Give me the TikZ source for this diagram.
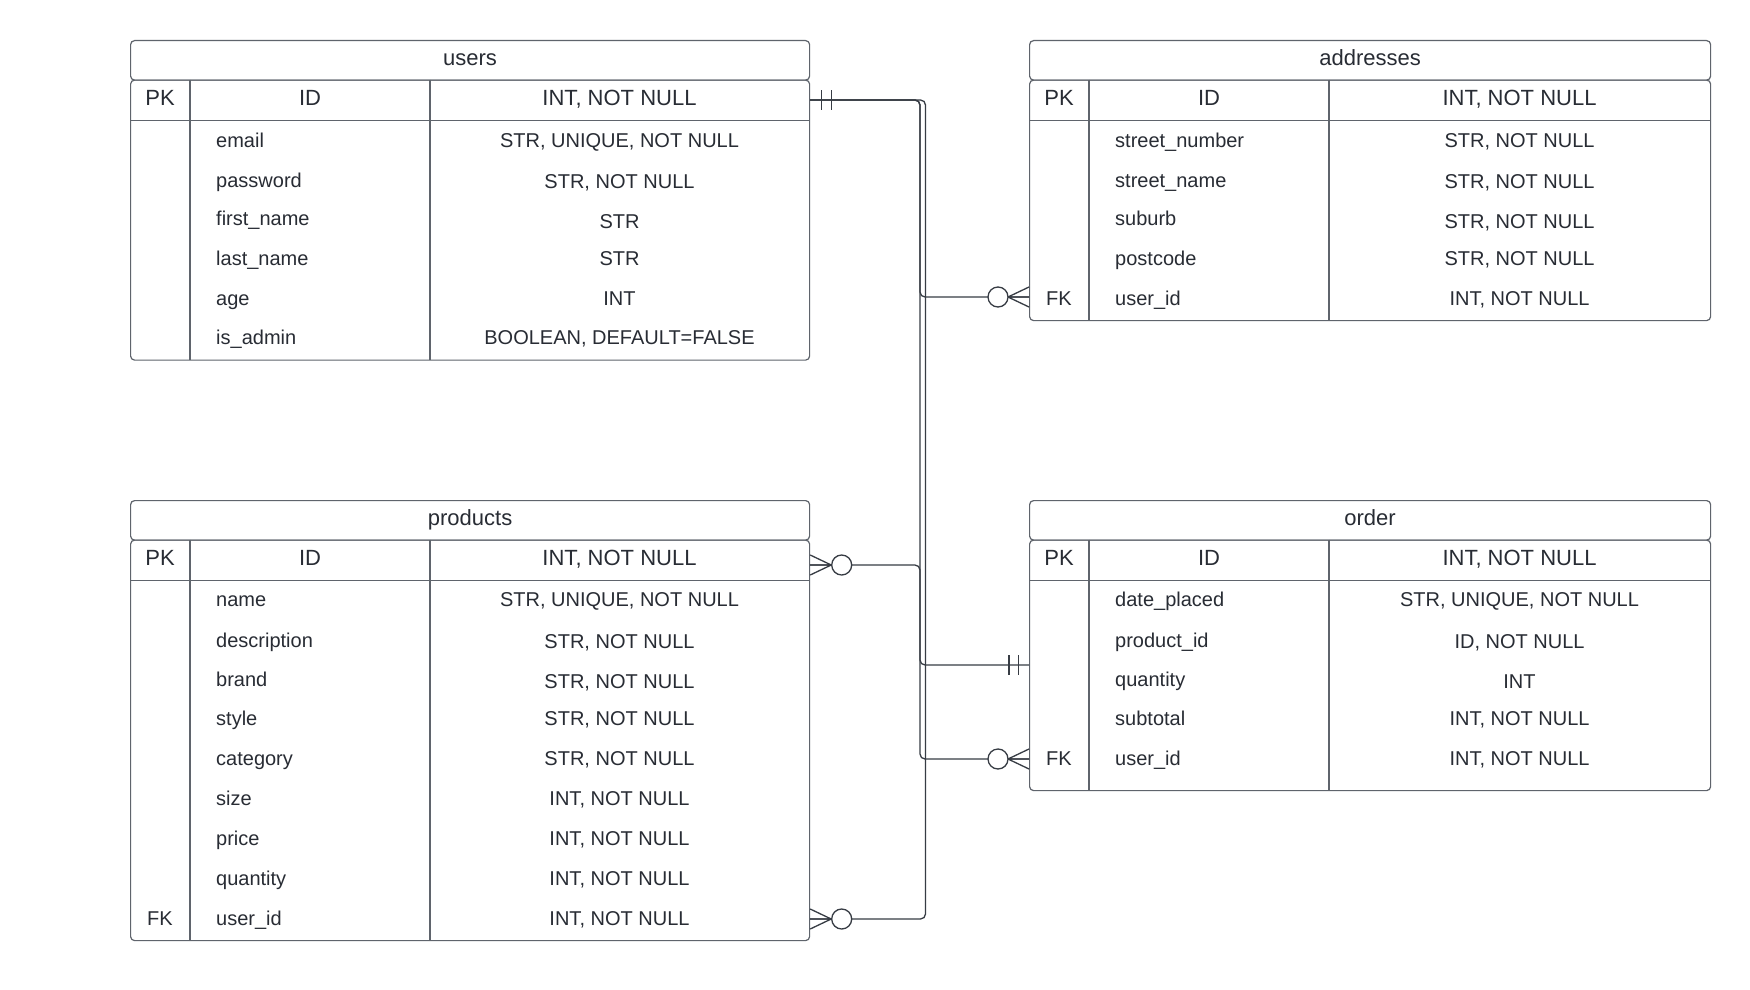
\documentclass[tikz,border=0pt]{standalone}
\usepackage{fontspec}
\setmainfont{Liberation Sans}
\definecolor{txt}{RGB}{40,44,52}
\definecolor{bord}{RGB}{95,100,108}
\definecolor{conn}{RGB}{55,60,68}
\tikzset{
  tbox/.style={draw=bord, line width=1.2pt, rounded corners=4pt, inner sep=0pt},
  tline/.style={draw=bord, line width=1.2pt},
  titlefont/.style={font=\fontsize{22}{26}\selectfont, text=txt, text height=15.2pt, text depth=4pt},
  headtxt/.style={font=\fontsize{22}{26}\selectfont, text=txt, inner sep=0pt, anchor=base},
  rowtxt/.style={font=\fontsize{20}{24}\selectfont, text=txt, inner sep=0pt},
  conn/.style={draw=conn, line width=1.3pt, rounded corners=5pt},
  endmark/.style={draw=conn, line width=1.3pt},
}
\newcommand{\ertable}[8]{%
  \node[tbox, titlefont, anchor=north west, minimum width={#6-#3}, minimum height=39.5] (#1-title) at (#3,#7) {#2};
  \node[tbox, anchor=north west, minimum width={#6-#3}, minimum height={#8-#7-39.5}] (#1) at (#3,#7+39.5) {};
  \draw[tline] (#3,#7+80.5) -- (#6,#7+80.5);
  \draw[tline] (#4,#7+39.5) -- (#4,#8);
  \draw[tline] (#5,#7+39.5) -- (#5,#8);
  \node[headtxt] (#1-pk) at ({(#3+#4)/2},#7+65.8) {PK};
  \node[headtxt] (#1-id) at ({(#4+#5)/2},#7+65.8) {ID};
  \node[headtxt] (#1-idt) at ({(#5+#6)/2},#7+65.8) {INT, NOT NULL};
}
\begin{document}
\begin{tikzpicture}[x=1pt,y=-1pt]
\fill[white] (0,0) rectangle (1750,990);
\useasboundingbox (0,0) rectangle (1750,990);

% ---------- tables ----------
\ertable{users}{users}{130}{190}{430}{809}{40}{359.5}
\ertable{addresses}{addresses}{1029}{1089}{1329}{1710}{40}{320}
\ertable{products}{products}{130}{190}{430}{809}{500}{940}
\ertable{order}{order}{1029}{1089}{1329}{1710}{500}{790}

\foreach \a/\b/\n/\t [count=\i] in {139.5/139.5/email/{STR, UNIQUE, NOT NULL}, 179.7/180.8/password/{STR, NOT NULL}, 217.6/221/first\_name/STR, 257.8/257.8/last\_name/STR, 298/298/age/INT, 337/337/is\_admin/{BOOLEAN, DEFAULT=FALSE}} {
  \node[rowtxt, anchor=base west] (users-n\i) at (216,\a+7.6) {\n};
  \node[rowtxt, anchor=base] (users-t\i) at (619.5,\b+7.6) {\t};
}
\foreach \a/\b/\n/\t [count=\i] in {139.5/139.5/street\_number/{STR, NOT NULL}, 179.7/180.8/street\_name/{STR, NOT NULL}, 217.6/221/suburb/{STR, NOT NULL}, 257.8/257.8/postcode/{STR, NOT NULL}, 298/298/user\_id/{INT, NOT NULL}} {
  \node[rowtxt, anchor=base west] (addresses-n\i) at (1115,\a+7.6) {\n};
  \node[rowtxt, anchor=base] (addresses-t\i) at (1519.5,\b+7.6) {\t};
}
\node[rowtxt, anchor=base] (addresses-fk) at (1059,298+7.6) {FK};

\foreach \a/\b/\n/\t [count=\i] in {599.3/599.3/name/{STR, UNIQUE, NOT NULL}, 639.5/640.6/description/{STR, NOT NULL}, 678.5/680.8/brand/{STR, NOT NULL}, 717.6/717.6/style/{STR, NOT NULL}, 757.8/757.8/category/{STR, NOT NULL}, 798/798/size/{INT, NOT NULL}, 838/838/price/{INT, NOT NULL}, 878.3/878.3/quantity/{INT, NOT NULL}, 917.4/917.4/user\_id/{INT, NOT NULL}} {
  \node[rowtxt, anchor=base west] (products-n\i) at (216,\a+7.6) {\n};
  \node[rowtxt, anchor=base] (products-t\i) at (619.5,\b+7.6) {\t};
}
\node[rowtxt, anchor=base] (products-fk) at (160,917.4+7.6) {FK};

\foreach \a/\b/\n/\t [count=\i] in {599.3/599.3/date\_placed/{STR, UNIQUE, NOT NULL}, 639.5/640.6/product\_id/{ID, NOT NULL}, 678.5/680.8/quantity/INT, 717.6/717.6/subtotal/{INT, NOT NULL}, 757.8/757.8/user\_id/{INT, NOT NULL}} {
  \node[rowtxt, anchor=base west] (order-n\i) at (1115,\a+7.6) {\n};
  \node[rowtxt, anchor=base] (order-t\i) at (1519.5,\b+7.6) {\t};
}
\node[rowtxt, anchor=base] (order-fk) at (1059,757.8+7.6) {FK};

% ---------- connector end points ----------
\coordinate (uID) at (users.east |- 0,100);
\coordinate (aFK) at (addresses.west |- 0,297);
\coordinate (oFK) at (order.west |- 0,759);
\coordinate (oPID) at (order.west |- 0,665);
\coordinate (pID) at (products.east |- 0,565);
\coordinate (pFK) at (products.east |- 0,919);
\coordinate (busA) at (920,0);
\coordinate (busB) at (925.5,0);

% ---------- connectors ----------
\draw[conn] (uID) -- (uID -| busA) -- (busA |- aFK) -- (aFK);
\draw[conn] (uID) -- (uID -| busA) -- (busA |- oFK) -- (oFK);
\draw[conn] (uID) -- (uID -| busB) -- (busB |- pFK) -- (pFK);
\draw[conn] (pID) -- (pID -| busA) -- (busA |- oPID) -- (oPID);

% ---------- ends: one and only one ----------
\draw[endmark] ([shift={(11.5,-10)}]uID) -- ([shift={(11.5,10)}]uID)
               ([shift={(21.5,-10)}]uID) -- ([shift={(21.5,10)}]uID);
\draw[endmark] ([shift={(-10.5,-10)}]oPID) -- ([shift={(-10.5,10)}]oPID)
               ([shift={(-20,-10)}]oPID) -- ([shift={(-20,10)}]oPID);

% ---------- ends: zero or many ----------
\foreach \p in {aFK,oFK} {
  \begin{scope}[shift={(\p)}]
    \draw[endmark] (-21,0) -- (0,-10) (-21,0) -- (0,10) (-21,0) -- (0,0);
    \draw[endmark, fill=white] (-31,0) circle[radius=10pt];
  \end{scope}
}
\foreach \p in {pID,pFK} {
  \begin{scope}[shift={(\p)}]
    \draw[endmark] (21,0) -- (0,-10) (21,0) -- (0,10) (21,0) -- (0,0);
    \draw[endmark, fill=white] (31.5,0) circle[radius=10pt];
  \end{scope}
}
\end{tikzpicture}
\end{document}
